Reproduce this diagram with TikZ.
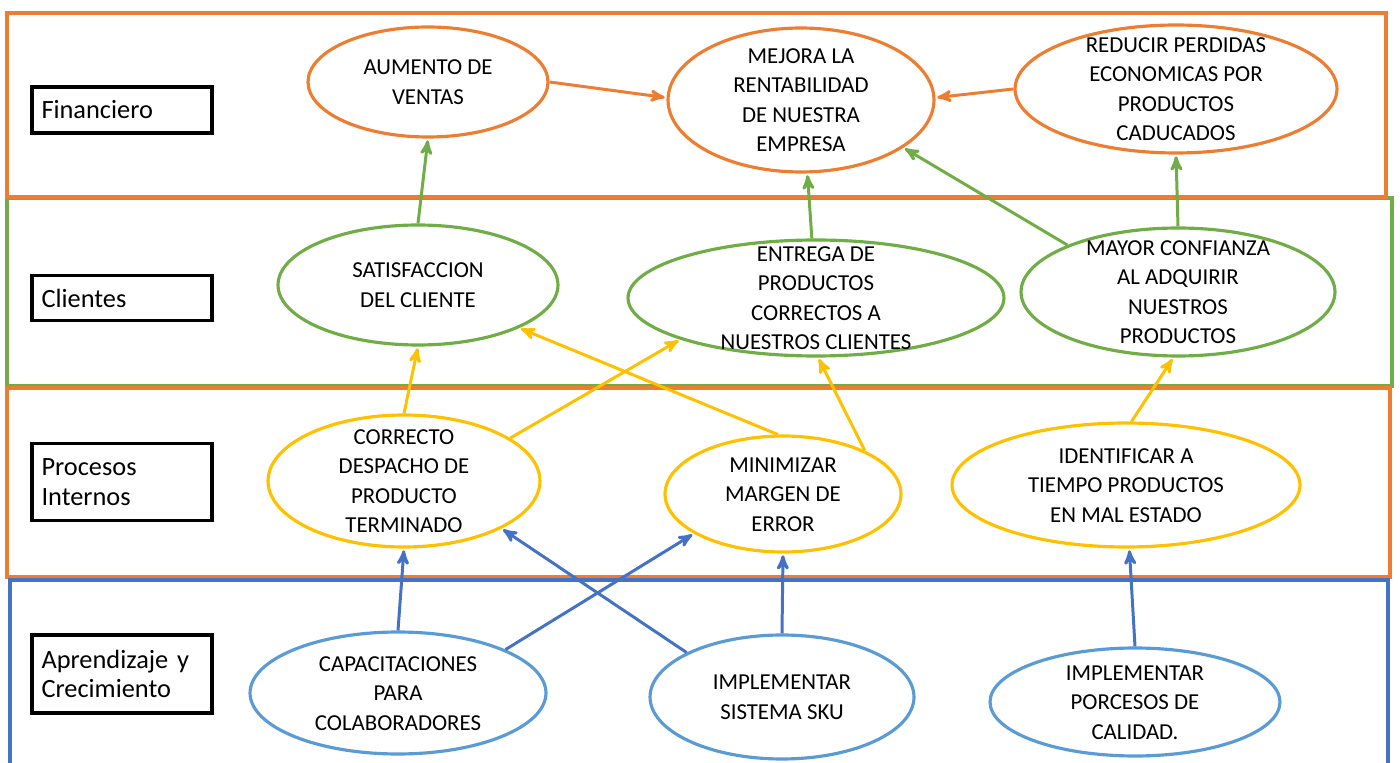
\documentclass[tikz,border=0pt]{standalone}
\usepackage{fontspec}
\setmainfont{Carlito}
\usepackage{tikz}
\usetikzlibrary{arrows,shapes.geometric}

\definecolor{naranja}{HTML}{ED7D31}
\definecolor{verde}{HTML}{70AD47}
\definecolor{amarillo}{HTML}{FFC000}
\definecolor{azul}{HTML}{4472C4}
\definecolor{celeste}{HTML}{5B9BD5}

\newcommand{\ovtext}[1]{\raisebox{-4pt}[0pt][0pt]{\begin{tabular}{@{}c@{}}#1\end{tabular}}}

\begin{document}
\begin{tikzpicture}[x=0.02cm,y=-0.02cm,>=stealth',
    meta/.style={ellipse,draw,line width=1.8pt,inner sep=0pt,font=\fontsize{13}{16.8}\selectfont},
    persp/.style={draw,line width=1.9pt,minimum width=3.6cm,text width=3.22cm,inner xsep=0.1cm,align=left,font=\fontsize{15}{17}\selectfont},
    franja/.style={line width=2.2pt}]
  \useasboundingbox (0,0) rectangle (1400,763);

  % franjas
  \draw[franja,draw=verde] (7,198) rectangle (1392,386);
  \draw[franja,draw=naranja] (7,13) rectangle (1386,197);
  \draw[franja,draw=naranja] (7,388) rectangle (1390,577);
  \draw[franja,draw=azul] (10,763) |- (1388,580) -- (1388,763);

  % perspectivas
  \node[persp,minimum height=0.92cm] (fin) at (122,110) {Financiero};
  \node[persp,minimum height=0.9cm]  (cli) at (122,298) {Clientes};
  \node[persp,minimum height=1.54cm] (pro) at (122,482) {Procesos\\Internos};
  \node[persp,minimum height=1.56cm] (apr) at (122,674) {Aprendizaje y\\Crecimiento};

  % objetivos
  \node[meta,draw=naranja,minimum width=4.8cm,minimum height=2.2cm]   (aum) at (428,82)  {\ovtext{AUMENTO DE\\VENTAS}};
  \node[meta,draw=naranja,minimum width=5.32cm,minimum height=2.88cm] (mej) at (801,100) {\ovtext{MEJORA LA\\RENTABILIDAD\\DE NUESTRA\\EMPRESA}};
  \node[meta,draw=naranja,minimum width=6.44cm,minimum height=2.56cm] (red) at (1176,89) {\ovtext{REDUCIR PERDIDAS\\ECONOMICAS POR\\PRODUCTOS\\CADUCADOS}};

  \node[meta,draw=verde,minimum width=5.6cm,minimum height=2.4cm]   (sat) at (418,285)  {\ovtext{SATISFACCION\\DEL CLIENTE}};
  \node[meta,draw=verde,minimum width=7.52cm,minimum height=2.32cm] (ent) at (816,298)  {\ovtext{ENTREGA DE\\PRODUCTOS\\CORRECTOS A\\NUESTROS CLIENTES}};
  \node[meta,draw=verde,minimum width=6.28cm,minimum height=2.56cm] (may) at (1178,292) {\ovtext{MAYOR CONFIANZA\\AL ADQUIRIR\\NUESTROS\\PRODUCTOS}};

  \node[meta,draw=amarillo,minimum width=5.44cm,minimum height=2.64cm] (cor)    at (404,481)  {\ovtext{CORRECTO\\DESPACHO DE\\PRODUCTO\\TERMINADO}};
  \node[meta,draw=amarillo,minimum width=4.72cm,minimum height=2.32cm] (minerr) at (783,494)  {\ovtext{MINIMIZAR\\MARGEN DE\\ERROR}};
  \node[meta,draw=amarillo,minimum width=6.96cm,minimum height=2.48cm] (ide)    at (1126,485) {\ovtext{IDENTIFICAR A\\TIEMPO PRODUCTOS\\EN MAL ESTADO}};

  \node[meta,draw=celeste,minimum width=5.92cm,minimum height=2.44cm] (cap) at (398,693)  {\ovtext{CAPACITACIONES\\PARA\\COLABORADORES}};
  \node[meta,draw=celeste,minimum width=5.28cm,minimum height=2.48cm] (sku) at (782,697)  {\ovtext{IMPLEMENTAR\\SISTEMA SKU}};
  \node[meta,draw=celeste,minimum width=5.8cm,minimum height=2.16cm]  (cal) at (1135,702) {\ovtext{IMPLEMENTAR\\PORCESOS DE\\CALIDAD.}};

  \path[->,color=naranja,line width=1.7pt,shorten >=1pt]
    (aum.0) edge (mej.179)
    (red.180) edge (mej.1);

  \path[->,color=verde,line width=1.7pt,shorten >=1pt]
    (sat.north) edge (aum.south)
    (ent.94) edge (mej.-85)
    (may.157) edge (mej.-25)
    (may.north) edge (red.south);

  \path[->,color=amarillo,line width=1.7pt,shorten >=1pt]
    (cor.north) edge (sat.south)
    (cor.22) edge (ent.197)
    (minerr.95) edge (sat.-23)
    (minerr.28) edge (ent.-88)
    (ide.85) edge (may.-94);

  \path[->,color=azul,line width=1.7pt,shorten >=1pt]
    (cap.north) edge (cor.south)
    (cap.22) edge (minerr.204)
    (sku.155) edge (cor.-26)
    (sku.north) edge (minerr.south)
    (cal.north) edge (ide.-87);
\end{tikzpicture}
\end{document}
